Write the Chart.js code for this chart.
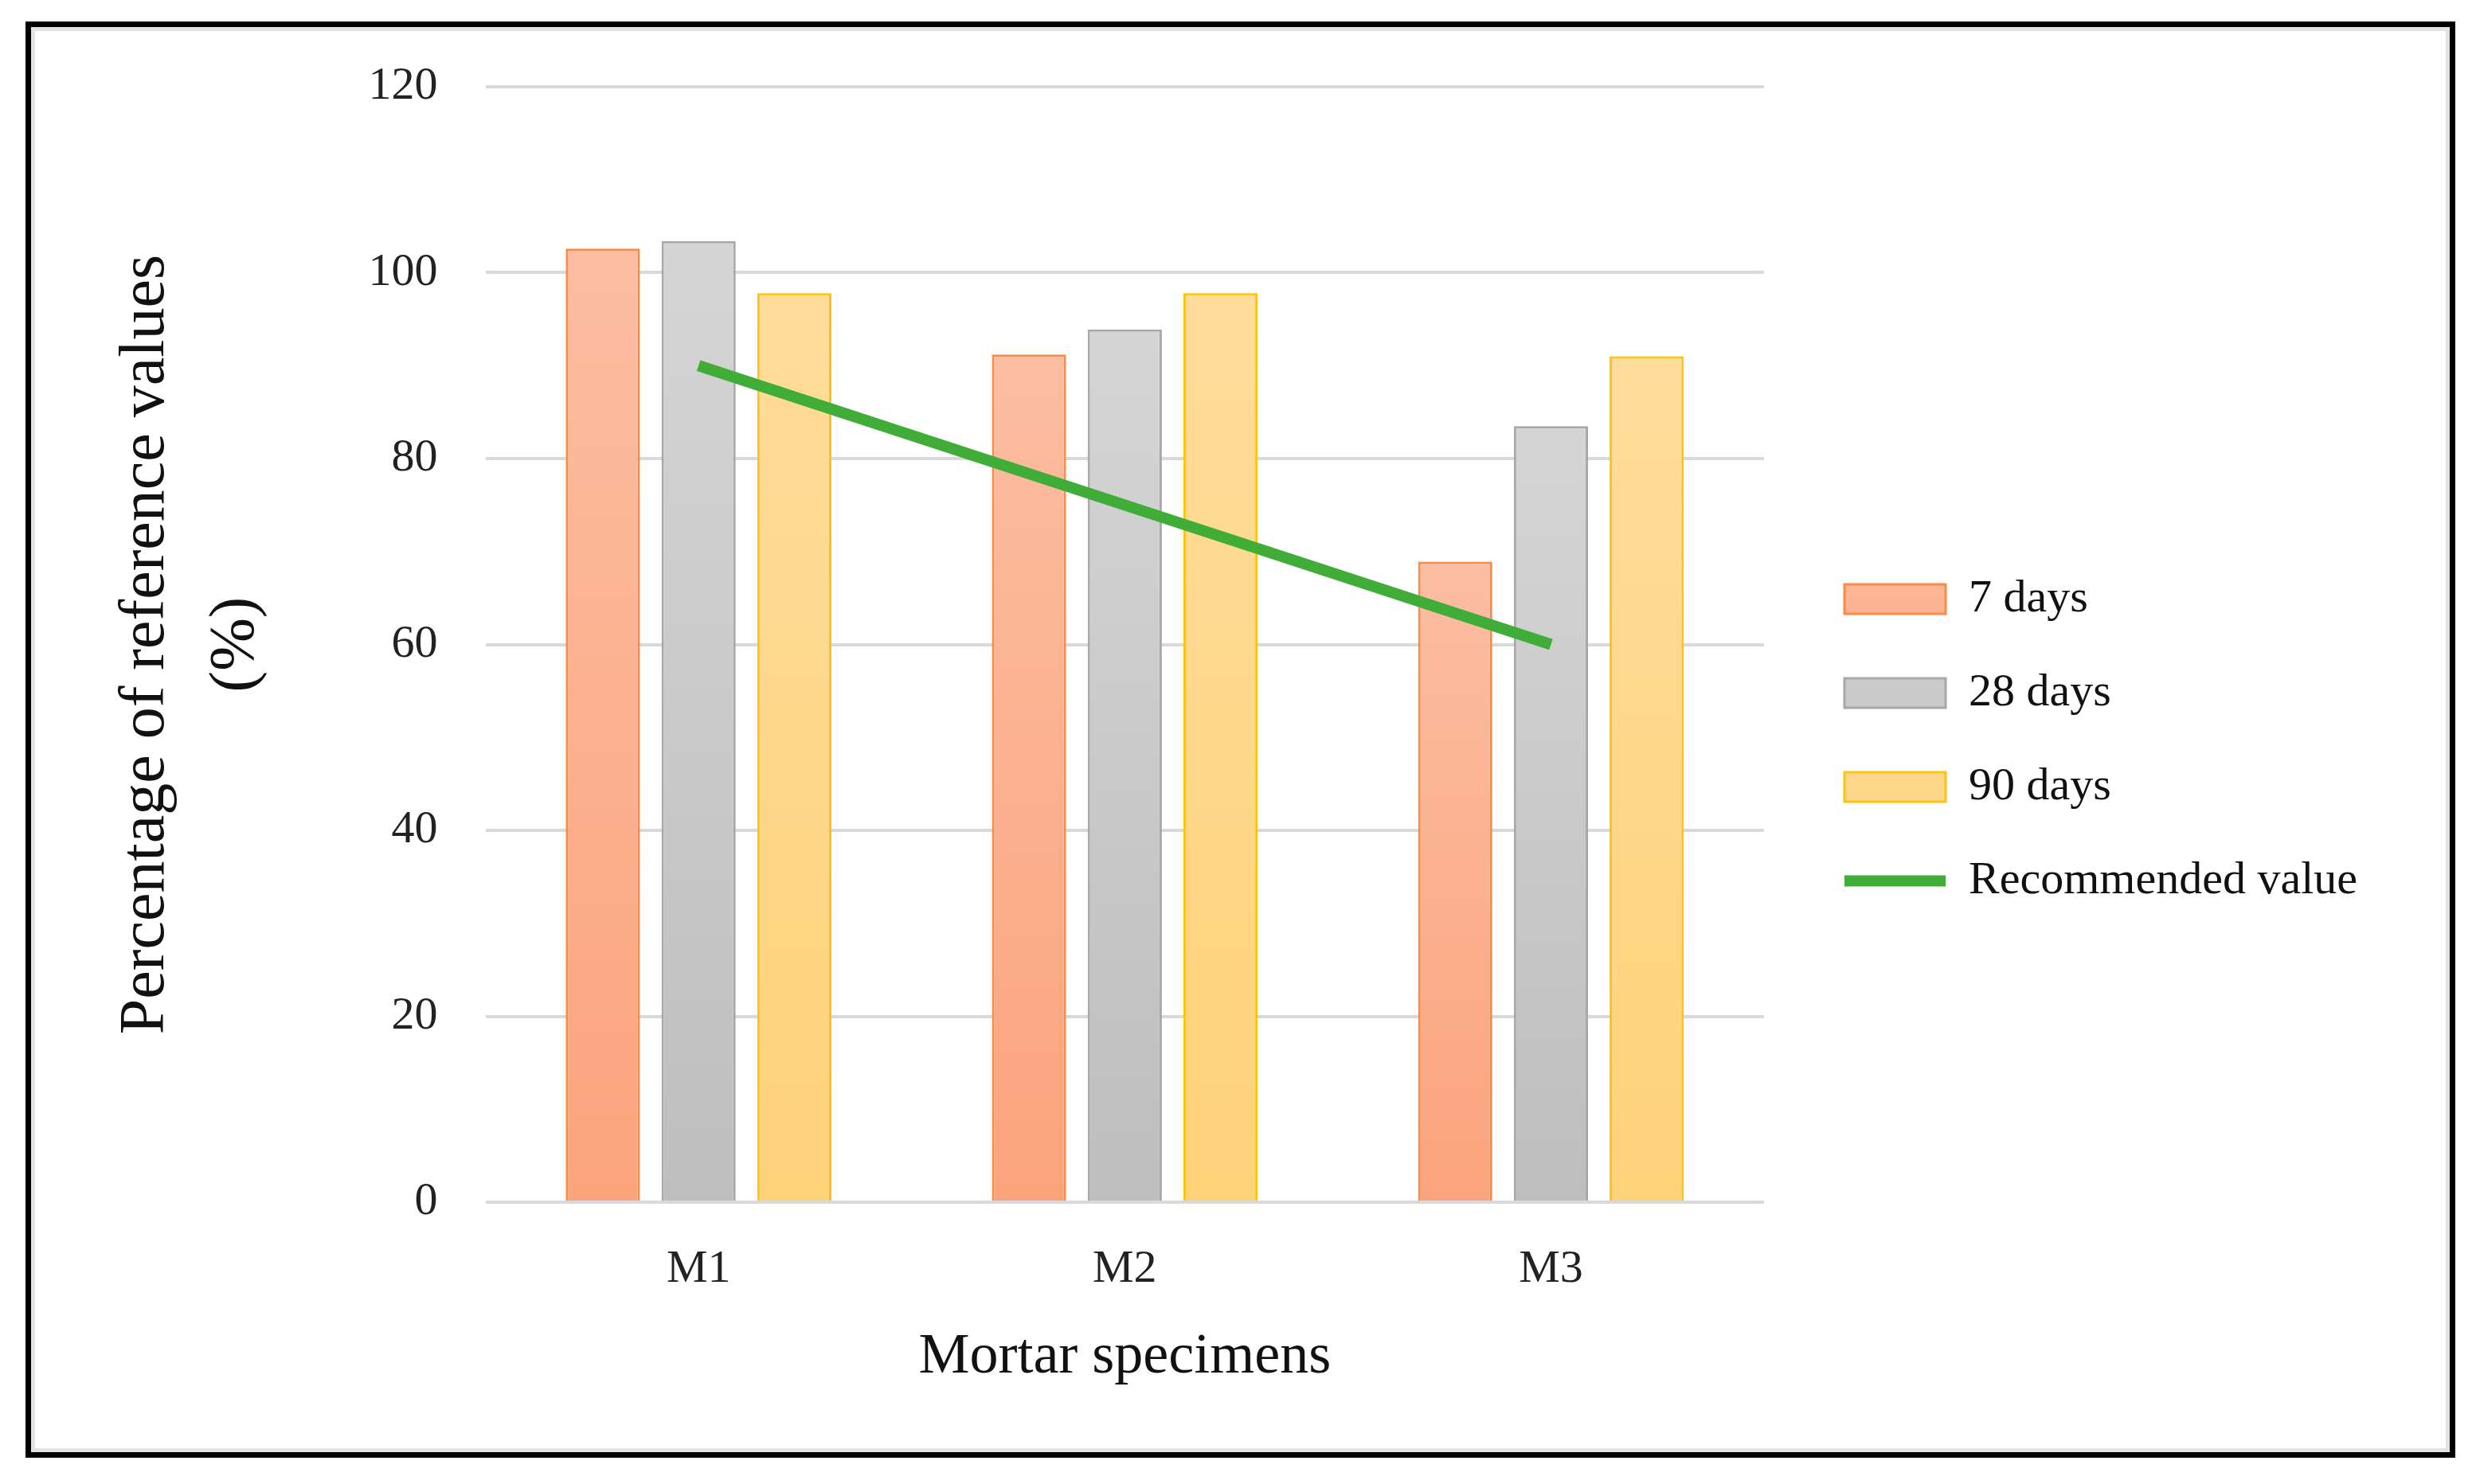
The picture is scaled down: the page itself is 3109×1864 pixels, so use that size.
<!DOCTYPE html>
<html>
<head>
<meta charset="utf-8">
<script src="https://cdn.jsdelivr.net/npm/chart.js@4.4.0/dist/chart.umd.min.js"></script>
<style>
  html, body { margin: 0; padding: 0; background: #fff; }
  #wrap { position: relative; width: 3109px; height: 1864px; overflow: hidden; }
  #frame {
    position: absolute; left: 32px; top: 27px; width: 3051px; height: 1804px;
    box-sizing: border-box; border: 7px solid #000;
    box-shadow: inset 0 0 0 5px #e3e3e3;
  }
  #chart { position: absolute; left: 0; top: 0; }
</style>
</head>
<body>
<div id="wrap">
  <div id="frame"></div>
  <canvas id="chart" width="3109" height="1864"></canvas>
</div>
<script>
// data
const specimens = ['M1', 'M2', 'M3'];
const days7 = [102.6, 91.2, 68.9];
const days28 = [103.4, 93.9, 83.5];
const days90 = [97.8, 97.8, 91.0];
const recommended = [90, 75, 60];
const yMin = 0, yMax = 120, yStep = 20;

const SERIF = '"Liberation Serif", "DejaVu Serif", serif';

// vertical gradient per bar, lighter at the top
function barGradient(top, bottom, flat) {
    return function(ctx) {
        if (ctx.type !== 'data') return flat;
        const chart = ctx.chart;
        if (!chart.chartArea) return flat;
        const y = chart.scales.y;
        const y0 = y.getPixelForValue(ctx.parsed.y);
        const y1 = y.getPixelForValue(0);
        const g = chart.ctx.createLinearGradient(0, y0, 0, y1);
        g.addColorStop(0, top);
        g.addColorStop(1, bottom);
        return g;
    };
}

// leave a little gap between the plot and the legend
const legendGap = {
    id: 'legendGap',
    afterLayout(chart) {
        if (chart.legend) {
            chart.legend.left += 41;
            chart.legend.right += 41;
            chart.legend.top -= 4;
            chart.legend.bottom -= 4;
        }
    }
};

const ctx = document.getElementById('chart').getContext('2d');
new Chart(ctx, {
    type: 'bar',
    data: {
        labels: specimens,
        datasets: [{
            label: '7 days',
            data: days7,
            backgroundColor: barGradient('#fcbda2', '#fba47c', '#fdb99a'),
            borderColor: '#fb8a45',
            borderWidth: 3,
            pointStyle: 'rect',
            order: 1
        }, {
            label: '28 days',
            data: days28,
            backgroundColor: barGradient('#d5d5d5', '#bebebe', '#cccccc'),
            borderColor: '#a8a8a8',
            borderWidth: 3,
            pointStyle: 'rect',
            order: 1
        }, {
            label: '90 days',
            data: days90,
            backgroundColor: barGradient('#fedc9b', '#fed279', '#fed88c'),
            borderColor: '#ffc20e',
            borderWidth: 3,
            pointStyle: 'rect',
            order: 1
        }, {
            type: 'line',
            label: 'Recommended value',
            data: recommended,
            borderColor: '#40ad38',
            backgroundColor: '#40ad38',
            borderWidth: 14,
            pointRadius: 0,
            pointStyle: 'line',
            tension: 0,
            order: 0
        }]
    },
    options: {
        responsive: false,
        animation: false,
        devicePixelRatio: 1,
        datasets: {
            bar: {
                categoryPercentage: 0.674,
                barPercentage: 0.775
            }
        },
        layout: {
            padding: { left: 40, top: 109, right: 180, bottom: 106 }
        },
        plugins: {
            tooltip: { enabled: false },
            legend: {
                position: 'right',
                labels: {
                    usePointStyle: true,
                    pointStyleWidth: 127,
                    boxHeight: 37,
                    padding: 60,
                    color: '#111',
                    font: { family: SERIF, size: 58 },
                    sort: (a, b) => a.datasetIndex - b.datasetIndex
                }
            }
        },
        scales: {
            x: {
                grid: { display: false },
                border: { display: false },
                ticks: {
                    color: '#222',
                    padding: 42,
                    font: { family: SERIF, size: 58 }
                },
                title: {
                    display: true,
                    text: 'Mortar specimens',
                    color: '#111',
                    padding: { top: -10, bottom: 10 },
                    font: { family: SERIF, size: 72 }
                }
            },
            y: {
                min: yMin,
                max: yMax,
                ticks: {
                    stepSize: yStep,
                    color: '#222',
                    padding: 60,
                    font: { family: SERIF, size: 58 }
                },
                grid: { color: '#d9d9d9', lineWidth: 4, drawTicks: false },
                border: { display: false },
                title: {
                    display: true,
                    text: ['Percentage of reference values', '(%)'],
                    color: '#111',
                    padding: { top: 88, bottom: 49 },
                    font: { family: SERIF, size: 80, lineHeight: 1.41 }
                }
            }
        }
    },
    plugins: [legendGap]
});
</script>
</body>
</html>
